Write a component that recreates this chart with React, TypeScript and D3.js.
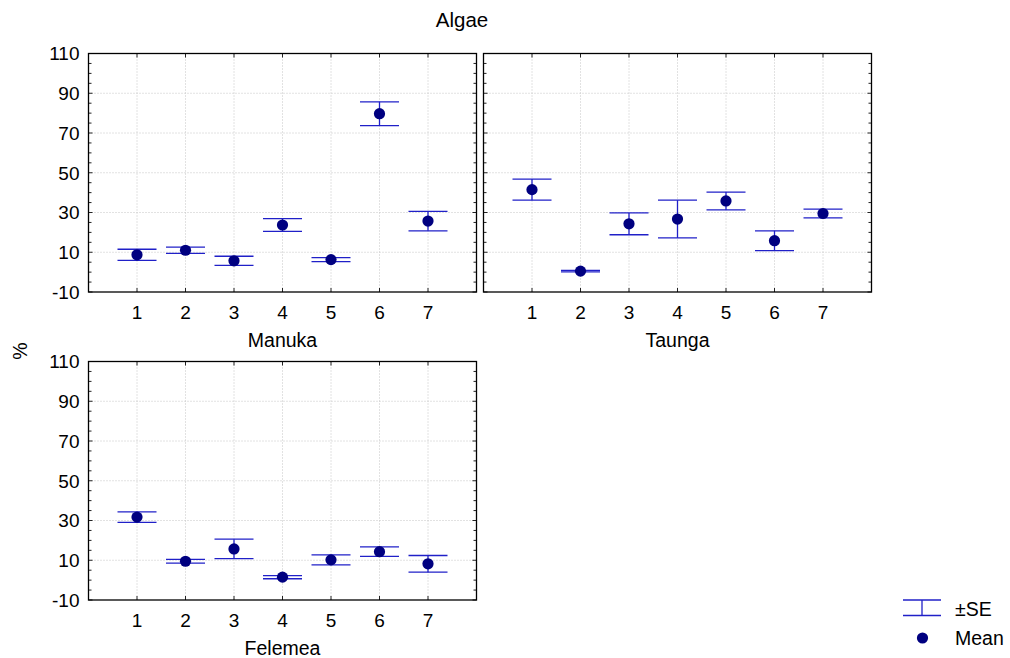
import { useRef, useEffect } from 'react';
import * as d3 from 'd3';

// categories on the x axis (sites 1..7)
const categories = [1, 2, 3, 4, 5, 6, 7];
const yTicks = [-10, 10, 30, 50, 70, 90, 110];

const manukaMean = [8.7, 11, 5.7, 23.7, 6.3, 79.7, 25.7];
const manukaSE = [2.8, 1.6, 2.3, 3.2, 1.0, 6.0, 4.9];

const taungaMean = [41.5, 0.5, 24.3, 26.7, 35.8, 15.8, 29.5];
const taungaSE = [5.3, 0.4, 5.5, 9.5, 4.5, 5.0, 2.2];

const felemeaMean = [31.7, 9.5, 15.7, 1.5, 10.2, 14.3, 8.2];
const felemeaSE = [2.6, 0.9, 4.9, 0.8, 2.5, 2.4, 4.2];

const panelNames = ['Manuka', 'Taunga', 'Felemea'];

const App = () => {
  const ref = useRef(null);

  useEffect(() => {
    d3.select(ref.current).selectAll("*").remove();

    const svg = d3.select(ref.current);
    const font = "'Liberation Sans', Arial, sans-serif";
    const barColor = "#2020c8";
    const dotColor = "#000080";
    const tickSize = 19;
    const labelSize = 19.5;

    const pw = 388;
    const ph = 238.5;
    const panels = [
      { name: panelNames[0], means: manukaMean, se: manukaSE, x0: 88.5, y0: 53.5 },
      { name: panelNames[1], means: taungaMean, se: taungaSE, x0: 483.5, y0: 53.5 },
      { name: panelNames[2], means: felemeaMean, se: felemeaSE, x0: 88.5, y0: 361.5 },
    ];

    svg.append("rect").attr("width", 1010).attr("height", 658).attr("fill", "#fff");

    // title
    svg.append("text")
      .attr("x", 462).attr("y", 26.5)
      .attr("text-anchor", "middle")
      .attr("font-family", font).attr("font-size", 20.5)
      .text("Algae");

    // y axis title
    svg.append("text")
      .attr("transform", "translate(27,351) rotate(-90)")
      .attr("text-anchor", "middle")
      .attr("font-family", font).attr("font-size", labelSize)
      .text("%");

    panels.forEach(p => {
      const x = d3.scaleLinear().domain([0, 8]).range([p.x0, p.x0 + pw]);
      const y = d3.scaleLinear().domain([-10, 110]).range([p.y0 + ph, p.y0]);
      const g = svg.append("g");

      // grid
      g.selectAll(".hgrid")
        .data(yTicks.slice(1, -1))
        .join("line")
        .attr("x1", p.x0).attr("x2", p.x0 + pw)
        .attr("y1", d => y(d)).attr("y2", d => y(d))
        .attr("stroke", "#c4c4c4")
        .attr("stroke-dasharray", "1,2");
      g.selectAll(".vgrid")
        .data(categories)
        .join("line")
        .attr("x1", d => x(d)).attr("x2", d => x(d))
        .attr("y1", p.y0).attr("y2", p.y0 + ph)
        .attr("stroke", "#c4c4c4")
        .attr("stroke-dasharray", "1,2");

      // minor + major y ticks, inward, left and right
      const yMinor = d3.range(-10, 111, 5);
      [[p.x0, 1], [p.x0 + pw, -1]].forEach(([xx, dir]) => {
        g.selectAll(null)
          .data(yMinor)
          .join("line")
          .attr("x1", xx).attr("x2", d => xx + dir * (d % 20 === 10 || d === -10 ? 4 : 3))
          .attr("y1", d => y(d)).attr("y2", d => y(d))
          .attr("stroke", "#222");
      });
      // x ticks top and bottom
      [[p.y0, 1], [p.y0 + ph, -1]].forEach(([yy, dir]) => {
        g.selectAll(null)
          .data(categories)
          .join("line")
          .attr("x1", d => x(d)).attr("x2", d => x(d))
          .attr("y1", yy).attr("y2", yy + dir * 4)
          .attr("stroke", "#222");
      });

      // frame
      g.append("rect")
        .attr("x", p.x0).attr("y", p.y0)
        .attr("width", pw).attr("height", ph)
        .attr("fill", "none")
        .attr("stroke", "#000")
        .attr("stroke-width", 1.3);

      // y tick labels only on the left column
      if (p.x0 < 100) {
        g.selectAll(null)
          .data(yTicks)
          .join("text")
          .attr("x", p.x0 - 9)
          .attr("y", d => y(d) + 6.8)
          .attr("text-anchor", "end")
          .attr("font-family", font).attr("font-size", tickSize)
          .text(d => d);
      }

      // x tick labels
      g.selectAll(null)
        .data(categories)
        .join("text")
        .attr("x", d => x(d))
        .attr("y", p.y0 + ph + 26.5)
        .attr("text-anchor", "middle")
        .attr("font-family", font).attr("font-size", tickSize)
        .text(d => d);

      // x axis title
      g.append("text")
        .attr("x", x(4))
        .attr("y", p.y0 + ph + 55)
        .attr("text-anchor", "middle")
        .attr("font-family", font).attr("font-size", labelSize)
        .text(p.name);

      // error bars
      const rows = categories.map((c, i) => ({ c, m: p.means[i], s: p.se[i] }));
      const eb = g.selectAll(".eb").data(rows).join("g");
      eb.append("line")
        .attr("x1", d => x(d.c)).attr("x2", d => x(d.c))
        .attr("y1", d => y(d.m + d.s)).attr("y2", d => y(d.m - d.s))
        .attr("stroke", barColor).attr("stroke-width", 1.3);
      eb.append("line")
        .attr("x1", d => x(d.c) - 19.5).attr("x2", d => x(d.c) + 19.5)
        .attr("y1", d => y(d.m + d.s)).attr("y2", d => y(d.m + d.s))
        .attr("stroke", barColor).attr("stroke-width", 1.3);
      eb.append("line")
        .attr("x1", d => x(d.c) - 19.5).attr("x2", d => x(d.c) + 19.5)
        .attr("y1", d => y(d.m - d.s)).attr("y2", d => y(d.m - d.s))
        .attr("stroke", barColor).attr("stroke-width", 1.3);
      eb.append("circle")
        .attr("cx", d => x(d.c)).attr("cy", d => y(d.m))
        .attr("r", 5.6)
        .attr("fill", dotColor);
    });

    // legend
    const lg = svg.append("g");
    lg.append("line").attr("x1", 903).attr("x2", 941).attr("y1", 600).attr("y2", 600)
      .attr("stroke", barColor).attr("stroke-width", 1.3);
    lg.append("line").attr("x1", 903).attr("x2", 941).attr("y1", 615.5).attr("y2", 615.5)
      .attr("stroke", barColor).attr("stroke-width", 1.3);
    lg.append("line").attr("x1", 922).attr("x2", 922).attr("y1", 600).attr("y2", 615.5)
      .attr("stroke", barColor).attr("stroke-width", 1.3);
    lg.append("text").attr("x", 955).attr("y", 616)
      .attr("font-family", font).attr("font-size", labelSize).text("±SE");
    lg.append("circle").attr("cx", 922.5).attr("cy", 638).attr("r", 5.6).attr("fill", dotColor);
    lg.append("text").attr("x", 955).attr("y", 645)
      .attr("font-family", font).attr("font-size", labelSize).text("Mean");
  }, []);

  return (
    <svg ref={ref} width={1010} height={658} style={{ position: "absolute", left: 0, top: 0 }} />
  );
};

export default App;
